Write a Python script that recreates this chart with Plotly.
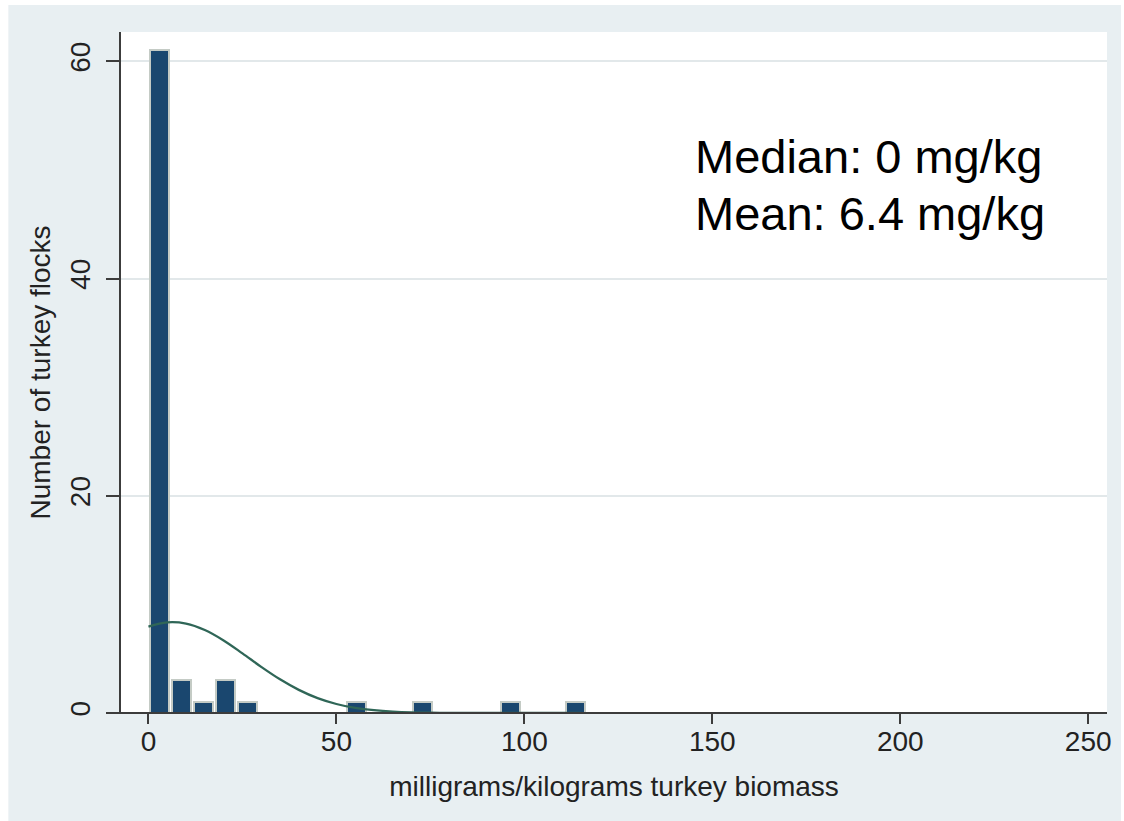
import plotly.graph_objects as go

# Histogram of usage per flock (frequency scale, 20 bins)
bin_mid = [2.92, 8.75, 14.58, 20.41, 26.24, 32.07, 37.90, 43.73, 49.56, 55.39,
           61.22, 67.05, 72.88, 78.71, 84.54, 90.37, 96.20, 102.03, 107.86, 113.69]
counts = [61, 3, 1, 3, 1, 0, 0, 0, 0, 1, 0, 0, 1, 0, 0, 0, 1, 0, 0, 1]

# Overlaid normal curve (frequency scale)
curve_x = [0, 5, 10, 15, 20, 25, 30, 35, 40, 45, 50, 55, 60, 65, 70, 75, 80,
           85, 90, 95, 100, 105, 110, 115]
curve_y = [7.95, 8.34, 8.23, 7.64, 6.68, 5.49, 4.25, 3.10, 2.13, 1.37, 0.83,
           0.48, 0.26, 0.13, 0.06, 0.03, 0.01, 0.0, 0.0, 0.0, 0.0, 0.0, 0.0, 0.0]

x_ticks = [0, 50, 100, 150, 200, 250]
y_ticks = [0, 20, 40, 60]

MEDIAN = 0
MEAN = 6.4

# Page geometry (pixels)
W, H = 1124, 821
PL, PR, PT, PB = 121, 1110, 32, 713

BG = "#e8eff2"
AXIS = "#3c3c3c"
TEXT = "#222222"
FONT = "Liberation Sans"


def fx(px):
    return (px - PL) / (PR - PL)


def fy(py):
    return (PB - py) / (PB - PT)


fig = go.Figure()

fig.add_trace(go.Bar(
    x=bin_mid, y=counts, width=5.04,
    marker=dict(color="#1a476f", line=dict(color="#c4cbc5", width=2)),
    showlegend=False, hoverinfo="x+y",
))

fig.add_trace(go.Scatter(
    x=curve_x, y=curve_y, mode="lines",
    line=dict(color="#2f6657", width=2.3, shape="spline"),
    showlegend=False,
))

shapes = [
    # graph region
    dict(type="rect", xref="paper", yref="paper", x0=fx(8), x1=fx(W), y0=fy(H), y1=fy(5),
         fillcolor=BG, line=dict(width=0), layer="below"),
    # plot region
    dict(type="rect", xref="paper", yref="paper", x0=0, x1=1, y0=0, y1=1,
         fillcolor="white", line=dict(width=0), layer="below"),
    # x axis line, extending a little past the y axis
    dict(type="line", xref="paper", yref="paper", x0=fx(107), x1=1, y0=0, y1=0,
         line=dict(color=AXIS, width=2), layer="above"),
]

annotations = [
    dict(text=f"Median: {MEDIAN} mg/kg", xref="paper", yref="paper",
         x=fx(695), y=fy(156), xanchor="left", yanchor="middle", showarrow=False,
         font=dict(family=FONT, size=47, color="#000000")),
    dict(text=f"Mean: {MEAN} mg/kg", xref="paper", yref="paper",
         x=fx(695), y=fy(214), xanchor="left", yanchor="middle", showarrow=False,
         font=dict(family=FONT, size=47, color="#000000")),
]

fig.update_layout(
    width=W, height=H,
    margin=dict(l=PL, r=W - PR, t=PT, b=H - PB, pad=0),
    paper_bgcolor="white", plot_bgcolor="white",
    font=dict(family=FONT, color=TEXT),
    bargap=0,
    shapes=shapes,
    annotations=annotations,
)

fig.update_xaxes(
    range=[-7.3, 255.0], tickvals=x_ticks, ticktext=[str(v) for v in x_ticks],
    showgrid=False, zeroline=False, showline=False,
    ticks="outside", ticklen=10, tickwidth=2, tickcolor=AXIS,
    tickfont=dict(family=FONT, size=28, color=TEXT), ticklabelstandoff=-7,
    title=dict(text="milligrams/kilograms turkey biomass",
               font=dict(family=FONT, size=28, color=TEXT), standoff=20),
)

fig.update_yaxes(
    range=[0, 62.7], tickvals=y_ticks, ticktext=[str(v) for v in y_ticks],
    showgrid=True, gridcolor="#e2e8ea", gridwidth=1.5,
    zeroline=False, showline=True, linecolor=AXIS, linewidth=2,
    ticks="outside", ticklen=13, tickwidth=2, tickcolor=AXIS, tickangle=-90,
    tickfont=dict(family=FONT, size=28, color=TEXT), ticklabelstandoff=5,
    title=dict(text="Number of turkey flocks",
               font=dict(family=FONT, size=28, color=TEXT), standoff=6),
)

fig.write_html("out.html")
